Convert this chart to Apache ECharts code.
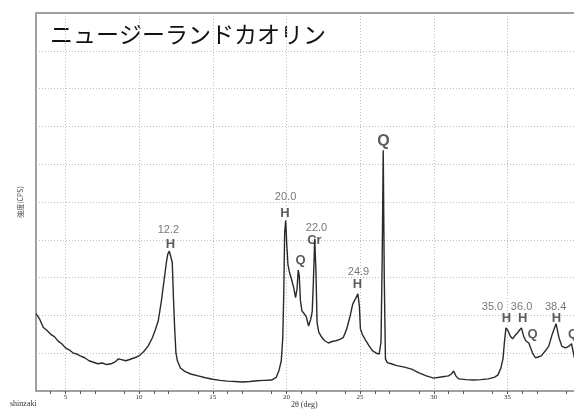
<!DOCTYPE html>
<html><head><meta charset="utf-8">
<script src="https://cdn.jsdelivr.net/npm/echarts@6/dist/echarts.min.js"></script>
<style>html,body{margin:0;padding:0;background:#fff}#c{width:574px;height:410px}</style>
</head><body><div id="c"></div>
<script>
var chartTitle = 'ニュージーランドカオリン';
var xName = '2θ (deg)';
var yName = '強度(CPS)';
var credit = 'shinzaki';
var xTicks = [5, 10, 15, 20, 25, 30, 35];

var twoTheta = [3.0,3.1,3.25,3.5,3.75,4.0,4.25,4.5,4.75,5.0,5.25,5.5,5.75,6.0,6.3,6.6,6.9,7.2,7.5,7.8,8.1,8.4,8.6,8.8,9.1,9.4,9.7,10.0,10.3,10.6,10.9,11.1,11.3,11.5,11.7,11.85,11.95,12.05,12.15,12.25,12.33,12.42,12.5,12.6,12.8,13.1,13.5,14.0,14.5,15.0,15.5,16.0,16.5,17.0,17.5,18.0,18.5,19.0,19.3,19.5,19.65,19.75,19.82,19.88,19.95,20.02,20.1,20.2,20.35,20.5,20.62,20.72,20.8,20.87,20.95,21.05,21.2,21.35,21.5,21.65,21.75,21.83,21.92,22.0,22.08,22.2,22.4,22.6,22.85,23.1,23.35,23.6,23.85,24.1,24.3,24.5,24.7,24.85,24.95,25.02,25.15,25.35,25.6,25.85,26.1,26.3,26.42,26.5,26.57,26.64,26.72,26.85,27.1,27.5,28.0,28.5,29.0,29.5,30.0,30.5,31.0,31.2,31.35,31.5,31.7,32.2,32.7,33.2,33.7,34.1,34.35,34.55,34.7,34.8,34.9,35.05,35.2,35.35,35.5,35.65,35.8,35.95,36.1,36.25,36.45,36.7,36.9,37.1,37.3,37.55,37.8,38.05,38.3,38.5,38.7,38.95,39.15,39.35,39.55,39.8,40.0];
var intensity = [2.05,2.04,1.90,1.68,1.60,1.50,1.44,1.32,1.25,1.14,1.09,1.01,0.98,0.93,0.88,0.80,0.76,0.72,0.74,0.70,0.72,0.78,0.85,0.83,0.80,0.84,0.88,0.93,1.04,1.18,1.41,1.62,1.86,2.35,2.95,3.40,3.63,3.70,3.72,3.40,2.47,1.60,1.00,0.80,0.61,0.52,0.45,0.40,0.35,0.31,0.28,0.26,0.25,0.24,0.25,0.27,0.28,0.29,0.36,0.55,0.80,1.40,2.60,4.20,4.51,3.90,3.35,3.15,2.95,2.72,2.47,2.70,3.20,3.05,2.39,2.12,2.05,1.96,1.72,1.90,2.10,2.90,4.03,3.20,1.80,1.55,1.42,1.33,1.27,1.31,1.33,1.36,1.41,1.65,1.95,2.30,2.45,2.57,2.25,1.65,1.50,1.36,1.20,1.06,1.00,0.98,1.30,3.50,6.37,3.00,0.85,0.75,0.72,0.67,0.63,0.58,0.48,0.40,0.34,0.37,0.40,0.45,0.53,0.40,0.32,0.30,0.29,0.30,0.32,0.36,0.42,0.60,0.85,1.30,1.67,1.59,1.45,1.38,1.46,1.52,1.60,1.67,1.45,1.33,1.27,1.01,0.88,0.90,0.93,1.05,1.18,1.51,1.78,1.41,1.18,1.14,1.18,1.25,0.88,0.80,0.78];

// peak annotations: d-value numbers
var numText  = ['12.2','20.0','22.0','24.9','35.0','36.0','38.4'];
var numTheta = [11.99, 19.94, 22.04, 24.89, 33.99, 35.96, 38.27];
var numY     = [4.27, 5.12, 4.32, 3.14, 2.23, 2.23, 2.23];
// mineral phase letters
var phaseText  = ['H','H','Q','Cr','H','Q','H','H','Q','H','Q'];
var phaseTheta = [12.13, 19.90, 20.95, 21.90, 24.82, 26.59, 34.94, 36.03, 36.70, 38.33, 39.45];
var phaseY     = [3.87, 4.69, 3.45, 3.99, 2.81, 6.60, 1.91, 1.91, 1.51, 1.91, 1.51];

var curve = twoTheta.map(function (t, i) { return [t, intensity[i]]; });
var maxPhaseY = Math.max.apply(null, phaseY);
var numData = numText.map(function (s, i) { return { value: [numTheta[i], numY[i]], name: s }; });
var phaseData = phaseText.map(function (s, i) {
  var big = phaseY[i] === maxPhaseY;
  return { value: [phaseTheta[i], phaseY[i]], name: s,
    label: { fontSize: big ? 16 : 13 } };
});

var X_MIN = 3, X_MAX = 39.52;
var frame = { color: '#a0a0a0', width: 2 };
var dotted = { color: '#bdbdbd', type: [1, 2], width: 1 };

var chart = echarts.init(document.getElementById('c'), null, { renderer: 'canvas' });
chart.setOption({
  animation: false,
  backgroundColor: '#fff',
  grid: { left: 36, top: 13, bottom: 19, right: 0, show: false, containLabel: false },
  graphic: [
    { type: 'text', left: 50, top: 23, style: { text: chartTitle, fontSize: 23, fontFamily: 'Noto Sans CJK JP', fill: '#111' } },
    { type: 'text', left: 291, top: 401, style: { text: xName, fontSize: 8, fontFamily: 'Liberation Serif', fill: '#333' } },
    { type: 'text', left: 10, top: 400, style: { text: credit, fontSize: 8, fontFamily: 'Liberation Serif', fill: '#333' } }
  ],
  xAxis: [{
    type: 'value', min: X_MIN, max: X_MAX, interval: 5, position: 'bottom',
    axisLine: { show: true, lineStyle: frame },
    axisTick: { show: true, customValues: xTicks, length: 3, inside: false, lineStyle: { color: '#555' } },
    minorTick: { show: true, splitNumber: 5, length: 3, lineStyle: { color: '#555' } },
    axisLabel: { customValues: xTicks, fontSize: 7, fontFamily: 'Liberation Serif', color: '#333', margin: 3 },
    splitLine: { show: true, lineStyle: dotted },
    minorSplitLine: { show: false }
  }, {
    type: 'value', min: X_MIN, max: X_MAX, position: 'top',
    axisLine: { show: true, lineStyle: frame },
    axisTick: { show: false }, axisLabel: { show: false }, splitLine: { show: false }
  }],
  yAxis: {
    type: 'value', min: 0, max: 10, interval: 1,
    name: yName, nameLocation: 'middle', nameGap: 12, nameRotate: 90,
    nameTextStyle: { fontSize: 7, fontFamily: 'Noto Sans CJK JP', color: '#444' },
    axisLine: { show: true, lineStyle: frame },
    axisTick: { show: false },
    axisLabel: { show: false },
    splitLine: { show: true, lineStyle: dotted }
  },
  series: [
    { type: 'line', data: curve, showSymbol: false, symbol: 'none', silent: true,
      lineStyle: { color: '#2a2a2a', width: 1.4 } },
    { type: 'scatter', data: numData, symbolSize: 1, silent: true, itemStyle: { color: 'rgba(0,0,0,0)' },
      label: { show: true, position: 'inside', formatter: '{b}', fontSize: 11, fontFamily: 'Liberation Sans', color: '#555' } },
    { type: 'scatter', data: phaseData, symbolSize: 1, silent: true, itemStyle: { color: 'rgba(0,0,0,0)' },
      label: { show: true, position: 'inside', formatter: '{b}', fontSize: 13, fontWeight: 'bold', fontFamily: 'Liberation Sans', color: '#333' } }
  ]
});
</script></body></html>
